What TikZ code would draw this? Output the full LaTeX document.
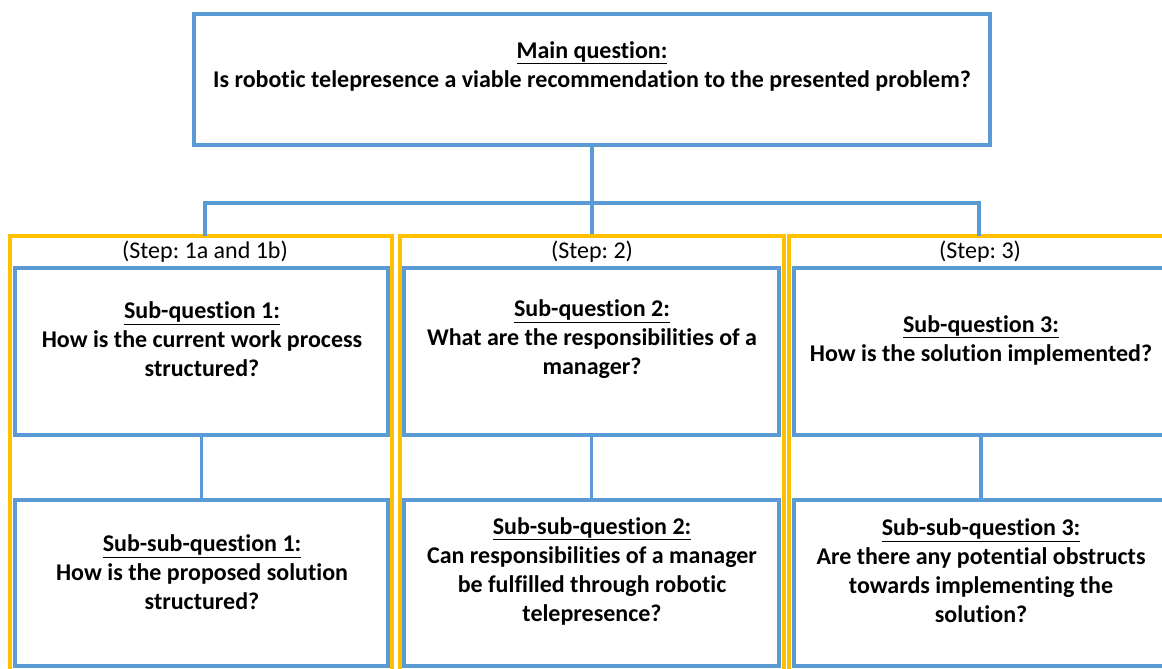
\documentclass[tikz,border=0pt]{standalone}
\usepackage{fontspec}
\setmainfont{Carlito}[Ligatures={NoCommon}]
\frenchspacing
\usetikzlibrary{fit}
\definecolor{qblue}{HTML}{5B9BD5}
\definecolor{qgold}{HTML}{FFC000}
\begin{document}
\begin{tikzpicture}[x=0.75pt,y=-0.75pt,
  bbox/.style={draw=qblue, line width=2.5pt, inner sep=0pt, fill=white},
  gframe/.style={draw=qgold, line width=2.5pt, inner sep=0pt},
  conn/.style={draw=qblue, line width=2.5pt},
  qtext/.style={align=center, font=\fontsize{18}{21.75}\selectfont\bfseries, text=black},
  steptext/.style={font=\fontsize{18}{21.75}\selectfont, text=black}]
\useasboundingbox (0,0) rectangle (1162,668);
\clip (0,0) rectangle (1162,668);
\fill[white] (0,0) rectangle (1162,668);
% frames
\node[gframe, fit={(10,236) (392,674)}] (f1) {};
\node[gframe, fit={(400,236) (784,674)}] (f2) {};
\node[gframe, fit={(789,236) (1171,674)}] (f3) {};
% boxes
\node[bbox, fit={(194,14) (990,145)}] (main) {};
\node[bbox, fit={(15,268) (388,435)}] (s1) {};
\node[bbox, fit={(404,268) (779,435)}] (s2) {};
\node[bbox, fit={(794,268) (1168,435)}] (s3) {};
\node[bbox, fit={(15,500) (388,666)}] (ss1) {};
\node[bbox, fit={(404,500) (779,666)}] (ss2) {};
\node[bbox, fit={(794,500) (1168,666)}] (ss3) {};
% connectors
\coordinate (bus) at (592,203);
\draw[conn] (main.south) -- (f2.north);
\draw[conn] (205,236) coordinate (c1) |- (bus) -| (979,236) coordinate (c3);
\draw[conn] (s1.south) -- (ss1.north);
\draw[conn] (s2.south) -- (ss2.north);
\draw[conn] (s3.south) -- (ss3.north);
% texts
\node[qtext] (t0) at (592,66) {\underline{Main question:}\\Is robotic telepresence a viable recommendation to the presented problem?};
\node[steptext] (st1) at (205,252) {(Step: 1a and 1b)};
\node[steptext] (st2) at (592,252) {(Step: 2)};
\node[steptext] (st3) at (980,252) {(Step: 3)};
\node[qtext] (t1) at (202,339) {\underline{Sub-question 1:}\\How is the current work process\\structured?};
\node[qtext] (t2) at (592,339) {\underline{Sub-question 2:}\\What are the responsibilities of a\\manager?};
\node[qtext] (t3) at (981,340) {\underline{Sub-question 3:}\\How is the solution implemented?};
\node[qtext] (t4) at (202,572) {\underline{Sub-sub-question 1:}\\How is the proposed solution\\structured?};
\node[qtext] (t5) at (592,571) {\underline{Sub-sub-question 2:}\\Can responsibilities of a manager\\be fulfilled through robotic\\telepresence?};
\node[qtext] (t6) at (981,571) {\underline{Sub-sub-question 3:}\\Are there any potential obstructs\\towards implementing the\\solution?};
\end{tikzpicture}
\end{document}
